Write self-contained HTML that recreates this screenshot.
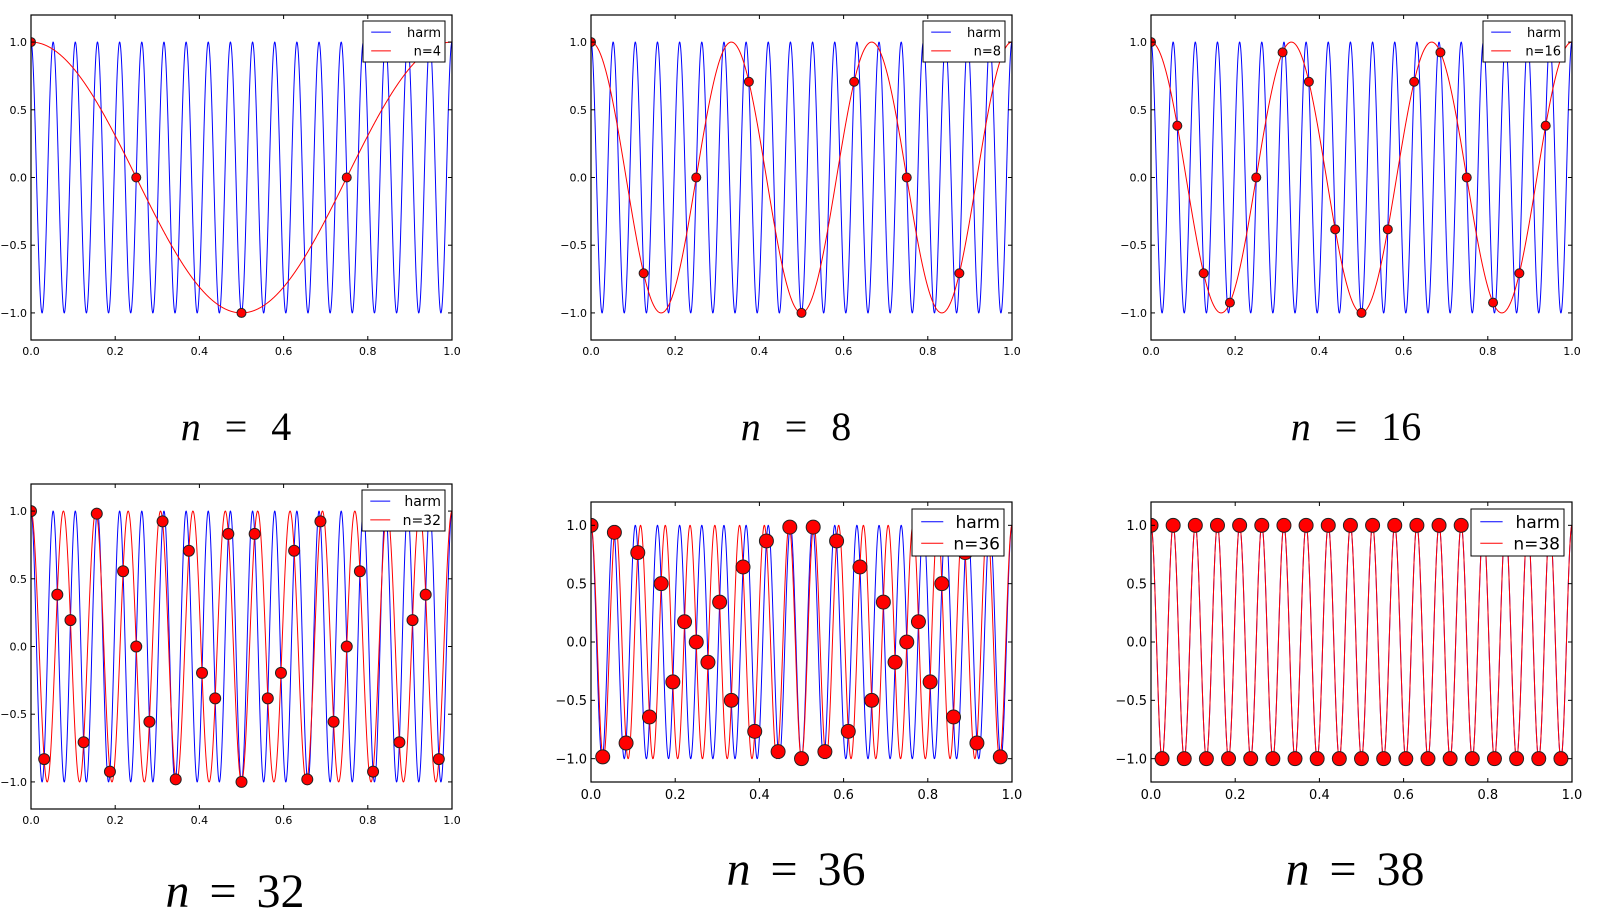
<!DOCTYPE html>
<html><head><meta charset="utf-8"><style>
html,body{margin:0;padding:0;background:#fff;}
svg{display:block;}
</style></head><body>
<svg id="s" width="1617" height="922" xmlns="http://www.w3.org/2000/svg" font-family="'DejaVu Sans','Liberation Sans',sans-serif"></svg>
<script>
const S=document.getElementById('s');
const NS='http://www.w3.org/2000/svg';
function el(t,a,txt){const e=document.createElementNS(NS,t);for(const k in a)e.setAttribute(k,a[k]);if(txt!==undefined)e.textContent=txt;S.appendChild(e);return e;}
const panels=[
 {n:4,x0:31,x1:452,y0:15,y1:340,r:4.5,fs:11,lg:[363,21,82,41],lf:13,tx:236,ty:440,tf:40,ws:14},
 {n:8,x0:591,x1:1012,y0:15,y1:340,r:4.5,fs:11,lg:[923,21,82,41],lf:13,tx:796,ty:440,tf:40,ws:14},
 {n:16,x0:1151,x1:1572,y0:15,y1:340,r:4.5,fs:11,lg:[1483,21,82,41],lf:13,tx:1356,ty:440,tf:40,ws:14},
 {n:32,x0:31,x1:452,y0:484,y1:809,r:5.5,fs:11,lg:[362,490,83,41],lf:14,tx:235,ty:907,tf:48,ws:8},
 {n:36,x0:591,x1:1012,y0:502,y1:782,r:7,fs:13,lg:[912,509,92,47],lf:17,tx:796,ty:885,tf:48,ws:8},
 {n:38,x0:1151,x1:1572,y0:502,y1:782,r:7,fs:13,lg:[1471,509,93,47],lf:17,tx:1355,ty:885,tf:48,ws:8}
];
const K=19;
for(const p of panels){
  const W=p.x1-p.x0,H=p.y1-p.y0;
  const X=x=>p.x0+x*W, Y=y=>p.y1-(y+1.2)/2.4*H;
  const cid='c'+p.n;
  const cp=el('clipPath',{id:cid});
  const r=document.createElementNS(NS,'rect');r.setAttribute('x',p.x0);r.setAttribute('y',p.y0);r.setAttribute('width',W);r.setAttribute('height',H);cp.appendChild(r);
  let f=Math.abs(K-p.n*Math.round(K/p.n));
  let d='',d2='';
  const N=2000;
  for(let i=0;i<=N;i++){const x=i/N;d+=(i?'L':'M')+X(x).toFixed(2)+' '+Y(Math.cos(2*Math.PI*K*x)).toFixed(2);
    d2+=(i?'L':'M')+X(x).toFixed(2)+' '+Y(Math.cos(2*Math.PI*f*x)).toFixed(2);}
  el('path',{d:d,fill:'none',stroke:'#0000ff','stroke-width':1,'clip-path':`url(#${cid})`});
  el('path',{d:d2,fill:'none',stroke:'#ff0000','stroke-width':1,'clip-path':`url(#${cid})`});
  for(let i=0;i<p.n;i++){const x=i/p.n;el('circle',{cx:X(x),cy:Y(Math.cos(2*Math.PI*K*x)),r:p.r,fill:'#ff0000',stroke:'#222','stroke-width':1,'clip-path':`url(#${cid})`});}
  el('rect',{x:p.x0,y:p.y0,width:W,height:H,fill:'none',stroke:'#000','stroke-width':1.2});
  for(let k=0;k<=5;k++){const x=X(k/5);
    el('line',{x1:x,x2:x,y1:p.y1,y2:p.y1-4,stroke:'#000'});el('line',{x1:x,x2:x,y1:p.y0,y2:p.y0+4,stroke:'#000'});
    el('text',{x:x,y:p.y1+p.fs+4,'font-size':p.fs,'text-anchor':'middle'},(k/5).toFixed(1));}
  for(const v of [-1,-0.5,0,0.5,1]){const y=Y(v);
    el('line',{x1:p.x0,x2:p.x0+4,y1:y,y2:y,stroke:'#000'});el('line',{x1:p.x1,x2:p.x1-4,y1:y,y2:y,stroke:'#000'});
    el('text',{x:p.x0-4,y:y+p.fs*0.36,'font-size':p.fs,'text-anchor':'end'},(v<0?'\u2212':'')+Math.abs(v).toFixed(1));}
  const [lx,ly,lw,lh]=p.lg;
  el('rect',{x:lx,y:ly,width:lw,height:lh,fill:'#fff',stroke:'#000','stroke-width':1});
  const r1=ly+lh*0.27,r2=ly+lh*0.73,ll=lw*0.24;
  el('line',{x1:lx+lw*0.1,x2:lx+lw*0.1+ll,y1:r1,y2:r1,stroke:'#0000ff'});
  el('line',{x1:lx+lw*0.1,x2:lx+lw*0.1+ll,y1:r2,y2:r2,stroke:'#ff0000'});
  el('text',{x:lx+lw-4,y:r1+p.lf*0.36,'font-size':p.lf,'text-anchor':'end'},'harm');
  el('text',{x:lx+lw-4,y:r2+p.lf*0.36,'font-size':p.lf,'text-anchor':'end'},'n='+p.n);
  const t=el('text',{x:p.tx,y:p.ty,'font-size':p.tf,'text-anchor':'middle','word-spacing':p.ws,'font-family':"'Liberation Serif',serif"});
  const s1=document.createElementNS(NS,'tspan');s1.setAttribute('font-style','italic');s1.textContent='n';t.appendChild(s1);
  const s2=document.createElementNS(NS,'tspan');s2.textContent=' = '+p.n;t.appendChild(s2);
}
</script>
</body></html>
